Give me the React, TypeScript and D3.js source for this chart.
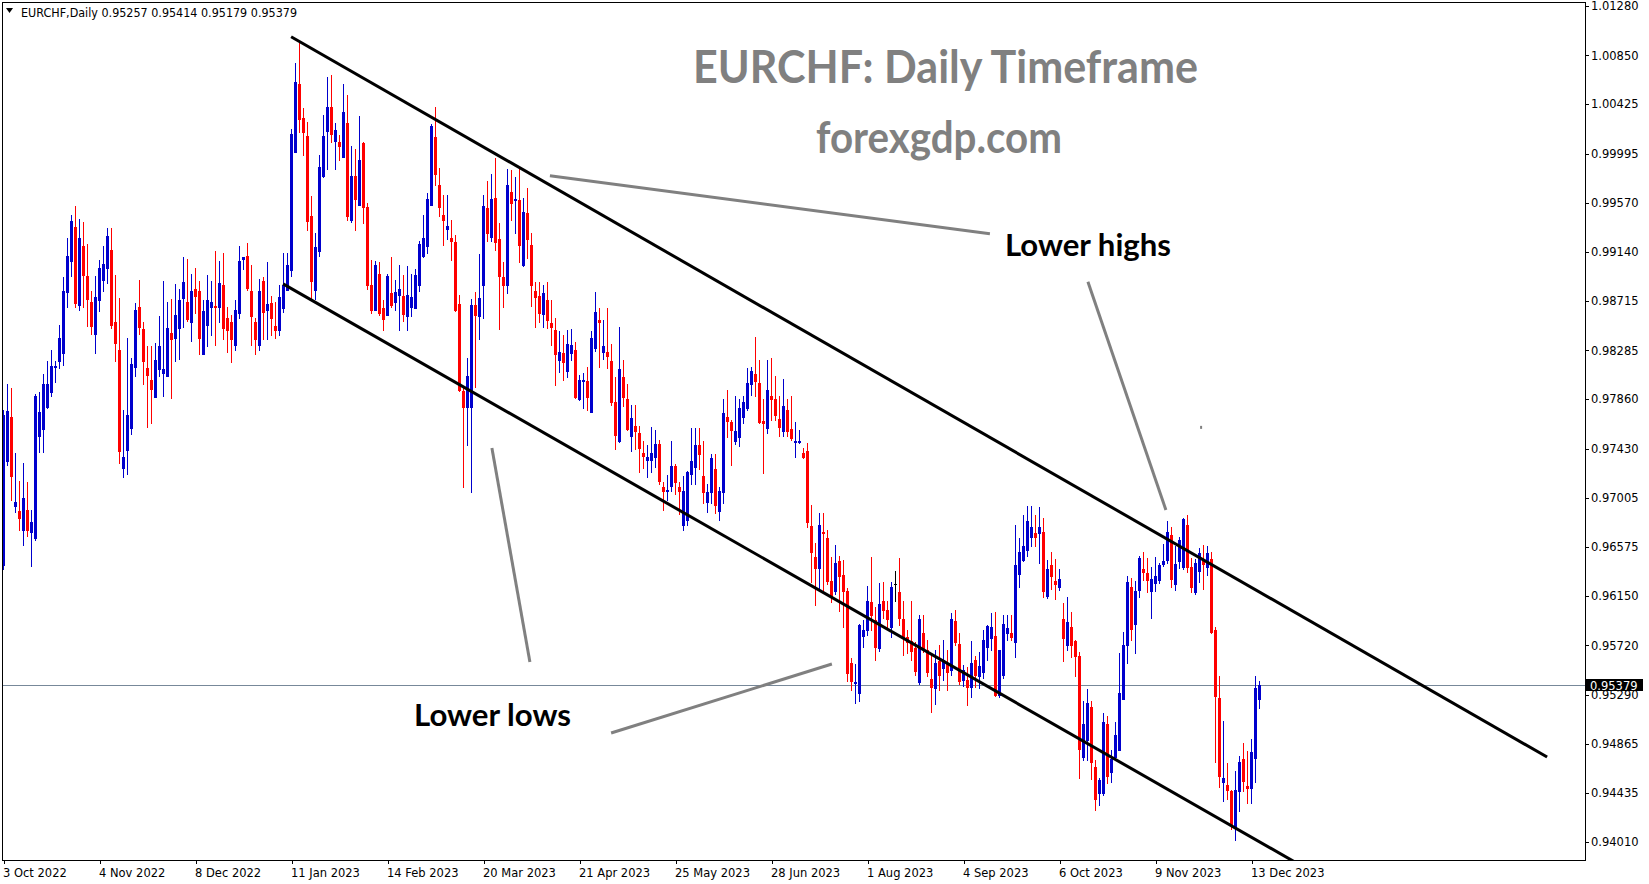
import React from 'react';
import * as d3 from 'd3';

// ---- Data (EURCHF daily, 3 Oct 2022 .. 15 Dec 2023) ----
const opens = [
.9642,.9732,.9771,.9693,.9689,.9672,.9690,.9671,.9665,.9754,
.9760,.9779,.9792,.9814,.9819,.9826,.9879,.9906,.9936,.9868,
.9919,.9893,.9871,.9843,.9872,.9890,.9900,.9916,.9853,.9829,
.9726,.9742,.9761,.9814,.9866,.9847,.9813,.9803,.9788,.9812,
.9809,.9806,.9844,.9839,.9848,.9874,.9871,.9853,.9882,.9880,
.9825,.9851,.9866,.9867,.9866,.9885,.9857,.9853,.9833,.9861,
.9908,.9911,.9880,.9853,.9833,.9889,.9864,.9870,.9850,.9846,
.9865,.9881,.9898,1.0001,1.0060,1.0031,1.0015,.9945,.9881,.9915,
.9980,1.0019,1.0040,1.0011,1.0010,.9997,1.0026,.9942,.9980,.9955,
1.0009,.9953,.9885,.9864,.9895,.9865,.9859,.9878,.9871,.9877,
.9876,.9858,.9866,.9865,.9885,.9911,.9919,.9955,1.0014,.9972,
.9946,.9934,.9926,.9923,.9869,.9793,.9779,.9779,.9868,.9858,
.9885,.9952,.9927,.9961,.9925,.9892,.9885,.9966,.9959,.9959,
.9903,.9948,.9920,.9880,.9876,.9860,.9872,.9852,.9846,.9820,
.9826,.9811,.9826,.9829,.9786,.9802,.9802,.9775,.9831,.9855,
.9827,.9827,.9819,.9784,.9750,.9805,.9786,.9754,.9763,.9757,
.9739,.9733,.9733,.9736,.9747,.9710,.9706,.9711,.9728,.9710,
.9677,.9681,.9721,.9727,.9746,.9719,.9697,.9705,.9725,.9689,
.9705,.9771,.9766,.9750,.9753,.9771,.9778,.9799,.9808,.9800,
.9767,.9761,.9789,.9786,.9769,.9758,.9777,.9760,.9749,.9749,
.9739,.9741,.9676,.9649,.9639,.9671,.9665,.9628,.9619,.9645,
.9633,.9619,.9557,.9539,.9531,.9580,.9585,.9610,.9594,.9570,
.9611,.9603,.9588,.9625,.9618,.9595,.9579,.9576,.9570,.9540,
.9583,.9568,.9543,.9535,.9558,.9552,.9557,.9551,.9593,.9573,
.9542,.9542,.9536,.9559,.9545,.9549,.9571,.9578,.9580,.9529,
.9546,.9583,.9583,.9575,.9634,.9646,.9655,.9666,.9670,.9670,
.9671,.9615,.9642,.9628,.9623,.9595,.9572,.9588,.9576,.9563,
.9475,.9490,.9518,.9466,.9444,.9444,.9504,.9462,.9475,.9481,
.9525,.9572,.9623,.9591,.9620,.9638,.9635,.9619,.9626,.9629,
.9643,.9646,.9668,.9625,.9645,.9640,.9677,.9640,.9618,.9637,
.9647,.9640,.9647,.9585,.9526,.9453,.9451,.9445,.9414,.9445,
.9473,.9450,.9448,.9474,.95257
];

const highs = [
.9777,.9799,.9796,.9739,.9715,.9731,.9714,.9690,.9791,.9792,
.9808,.9819,.9829,.9819,.9851,.9892,.9926,.9946,.9954,.9943,
.9940,.9921,.9880,.9893,.9907,.9919,.9935,.9935,.9894,.9874,
.9777,.9839,.9822,.9870,.9890,.9853,.9832,.9832,.9835,.9858,
.9889,.9871,.9873,.9886,.9882,.9910,.9908,.9895,.9900,.9889,
.9872,.9894,.9889,.9915,.9906,.9913,.9866,.9859,.9872,.9919,
.9910,.9922,.9903,.9857,.9891,.9892,.9905,.9876,.9871,.9885,
.9913,.9913,1.0021,1.0078,1.0096,1.0039,1.0027,.9963,.9931,.9998,
1.0033,1.0066,1.0068,1.0026,1.0016,1.0060,1.0051,1.0006,1.0004,1.0032,
1.0010,.9957,.9907,.9906,.9905,.9872,.9895,.9910,.9890,.9903,
.9894,.9902,.9895,.9899,.9924,.9946,.9965,1.0025,1.0040,.9987,
.9964,.9964,.9942,.9929,.9877,.9796,.9822,.9873,.9879,.9912,
.9964,.9976,.9982,.9996,.9939,.9905,.9986,.9985,.9979,.9988,
.9961,.9970,.9931,.9888,.9888,.9885,.9888,.9872,.9857,.9845,
.9842,.9846,.9847,.9836,.9807,.9809,.9814,.9845,.9879,.9865,
.9855,.9865,.9834,.9805,.9849,.9820,.9799,.9781,.9781,.9763,
.9750,.9746,.9762,.9759,.9751,.9714,.9720,.9750,.9730,.9714,
.9719,.9724,.9761,.9761,.9761,.9750,.9712,.9738,.9738,.9710,
.9786,.9794,.9768,.9789,.9786,.9789,.9813,.9814,.9840,.9820,
.9786,.9820,.9822,.9806,.9789,.9804,.9786,.9789,.9766,.9759,
.9744,.9748,.9694,.9661,.9687,.9687,.9672,.9649,.9659,.9650,
.9646,.9622,.9561,.9556,.9591,.9594,.9624,.9649,.9605,.9626,
.9627,.9611,.9627,.9637,.9648,.9611,.9585,.9611,.9575,.9598,
.9598,.9577,.9564,.9568,.9572,.9577,.9568,.9600,.9603,.9583,
.9555,.9553,.9576,.9563,.9566,.9585,.9590,.9600,.9601,.9568,
.9598,.9598,.9598,.9677,.9665,.9685,.9693,.9693,.9685,.9692,
.9683,.9646,.9653,.9647,.9638,.9609,.9614,.9601,.9577,.9566,
.9524,.9534,.9524,.9472,.9457,.9513,.9511,.9481,.9505,.9565,
.9584,.9632,.9631,.9628,.9650,.9653,.9648,.9640,.9649,.9644,
.9660,.9680,.9675,.9658,.9666,.9683,.9685,.9648,.9647,.9657,
.9659,.9658,.9653,.9588,.9545,.9506,.9470,.9446,.9463,.9476,
.9487,.9480,.9491,.9545,.95414
];

const lows = [
.9638,.9729,.9698,.9688,.9672,.9659,.9667,.9641,.9664,.9740,
.9740,.9778,.9789,.9801,.9813,.9816,.9866,.9893,.9866,.9864,
.9866,.9850,.9843,.9826,.9863,.9880,.9887,.9848,.9819,.9731,
.9718,.9721,.9756,.9806,.9843,.9799,.9762,.9765,.9788,.9806,
.9789,.9806,.9787,.9819,.9821,.9849,.9854,.9837,.9861,.9825,
.9825,.9832,.9842,.9833,.9853,.9838,.9827,.9818,.9829,.9857,
.9899,.9881,.9833,.9825,.9829,.9838,.9838,.9842,.9839,.9842,
.9862,.9881,.9893,1.0001,1.0018,.9998,.9933,.9873,.9873,.9911,
.9979,.9986,1.0010,.9986,.9994,.9997,.9942,.9940,.9933,.9955,
.9939,.9882,.9861,.9864,.9859,.9846,.9859,.9866,.9864,.9846,
.9854,.9846,.9858,.9865,.9880,.9910,.9913,.9955,.9972,.9945,
.9920,.9925,.9907,.9863,.9793,.9710,.9746,.9705,.9797,.9838,
.9857,.9924,.9924,.9916,.9847,.9866,.9878,.9942,.9931,.9905,
.9902,.9909,.9867,.9849,.9853,.9849,.9848,.9833,.9798,.9810,
.9803,.9805,.9820,.9787,.9785,.9778,.9777,.9775,.9828,.9814,
.9821,.9813,.9781,.9743,.9749,.9780,.9759,.9741,.9743,.9723,
.9726,.9718,.9723,.9727,.9712,.9690,.9698,.9706,.9704,.9686,
.9672,.9677,.9712,.9712,.9725,.9696,.9688,.9696,.9687,.9681,
.9696,.9753,.9729,.9747,.9745,.9765,.9777,.9790,.9789,.9765,
.9722,.9757,.9768,.9768,.9754,.9754,.9754,.9751,.9736,.9748,
.9735,.9675,.9627,.9607,.9622,.9620,.9625,.9610,.9617,.9602,
.9588,.9541,.9533,.9522,.9524,.9571,.9581,.9585,.9559,.9567,
.9596,.9588,.9579,.9611,.9590,.9564,.9565,.9559,.9546,.9538,
.9566,.9545,.9514,.9521,.9533,.9542,.9533,.9546,.9572,.9538,
.9537,.9520,.9527,.9536,.9535,.9544,.9559,.9568,.9528,.9527,
.9544,.9577,.9577,.9562,.9623,.9645,.9650,.9658,.9658,.9644,
.9614,.9613,.9621,.9612,.9620,.9558,.9568,.9562,.9545,.9457,
.9472,.9472,.9456,.9429,.9433,.9442,.9452,.9453,.9472,.9481,
.9525,.9557,.9577,.9565,.9614,.9629,.9618,.9596,.9619,.9626,
.9641,.9644,.9623,.9620,.9639,.9638,.9636,.9618,.9617,.9627,
.9621,.9633,.9583,.9471,.9449,.9437,.9438,.9412,.9403,.9428,
.9445,.9435,.9435,.9453,.95179
];

const closes = [
.9772,.9776,.9719,.9697,.9683,.9700,.9672,.9679,.9789,.9775,
.9799,.9799,.9815,.9815,.9839,.9880,.9911,.9941,.9870,.9926,
.9894,.9873,.9850,.9875,.9900,.9904,.9928,.9851,.9835,.9741,
.9736,.9772,.9817,.9864,.9849,.9819,.9807,.9795,.9820,.9832,
.9812,.9848,.9838,.9859,.9872,.9888,.9856,.9880,.9876,.9839,
.9863,.9872,.9871,.9866,.9887,.9848,.9846,.9838,.9864,.9906,
.9910,.9883,.9858,.9838,.9880,.9862,.9869,.9857,.9846,.9875,
.9885,.9903,1.0017,1.0062,1.0030,1.0018,.9941,.9889,.9918,.9988,
1.0015,1.0040,1.0017,1.0020,1.0006,1.0036,.9945,.9980,.9960,.9994,
.9953,.9885,.9864,.9903,.9861,.9856,.9893,.9868,.9879,.9882,
.9860,.9877,.9875,.9894,.9921,.9926,.9960,1.0024,.9982,.9953,
.9942,.9937,.9924,.9864,.9794,.9779,.9806,.9868,.9859,.9874,
.9954,.9931,.9960,.9923,.9893,.9885,.9972,.9957,.9960,.9920,
.9949,.9925,.9885,.9875,.9861,.9878,.9855,.9849,.9825,.9827,
.9818,.9834,.9833,.9788,.9803,.9803,.9788,.9839,.9862,.9853,
.9832,.9824,.9784,.9755,.9812,.9788,.9760,.9770,.9758,.9744,
.9737,.9736,.9739,.9747,.9715,.9706,.9707,.9728,.9714,.9706,
.9706,.9723,.9732,.9746,.9738,.9705,.9705,.9735,.9694,.9706,
.9774,.9767,.9759,.9758,.9778,.9784,.9800,.9811,.9802,.9766,
.9765,.9794,.9786,.9772,.9762,.9780,.9758,.9752,.9750,.9750,
.9736,.9679,.9653,.9639,.9677,.9670,.9628,.9614,.9644,.9632,
.9619,.9548,.9541,.9540,.9590,.9585,.9611,.9598,.9571,.9608,
.9603,.9595,.9623,.9625,.9596,.9579,.9575,.9567,.9550,.9595,
.9570,.9549,.9536,.9557,.9546,.9559,.9549,.9595,.9575,.9541,
.9551,.9536,.9557,.9546,.9554,.9577,.9589,.9588,.9529,.9568,
.9591,.9587,.9579,.9642,.9653,.9658,.9680,.9675,.9666,.9675,
.9619,.9638,.9632,.9625,.9630,.9578,.9592,.9572,.9563,.9482,
.9504,.9522,.9471,.9438,.9455,.9505,.9458,.9473,.9494,.9531,
.9572,.9627,.9586,.9619,.9648,.9636,.9629,.9630,.9632,.9642,
.9645,.9671,.9630,.9643,.9664,.9682,.9640,.9623,.9644,.9652,
.9643,.9652,.9584,.9528,.9458,.9457,.9446,.9416,.9446,.9471,
.9454,.9448,.9479,.9535,.95379
];

const dateLabels = ['3 Oct 2022','4 Nov 2022','8 Dec 2022','11 Jan 2023','14 Feb 2023','20 Mar 2023','21 Apr 2023','25 May 2023','28 Jun 2023','1 Aug 2023','4 Sep 2023','6 Oct 2023','9 Nov 2023','13 Dec 2023'];
const dateLabelBars = [0,24,48,72,96,120,144,168,192,216,240,264,288,312];

const priceTicks = [1.01280,1.00850,1.00425,0.99995,0.99570,0.99140,0.98715,0.98285,0.97860,0.97430,0.97005,0.96575,0.96150,0.95720,0.95290,0.94865,0.94435,0.94010];

const symbolHeader = 'EURCHF,Daily';
const lastBar = { o: 0.95257, h: 0.95414, l: 0.95179, c: 0.95379 };

// channel trend lines: [barIndex, price]
const upperTrend = [[71.9, 1.01013],[385.9, 0.94749]];
const lowerTrend = [[69.9, 0.98864],[325, 0.93793]];
// grey pointer lines: [barIndex, price]
const pointerLines = [
  [[136.6, 0.99804],[246.6, 0.99299]],
  [[271.1, 0.98882],[290.6, 0.96898]],
  [[122.1, 0.97437],[131.6, 0.95576]],
  [[151.9, 0.94958],[207.1, 0.95558]],
];
const strayDot = [299.4, 0.9762];

const BLUE = '#0000CD';
const RED = '#FF0000';

export default function App() {
  const W = 1649, H = 884;
  const pl = 2, pt = 2, pr = 1585, pb = 860;
  const x = d3.scaleLinear().domain([0, 314]).range([3.5, 3.5 + 4 * 314]);
  const y = d3.scaleLinear().domain([0.9401, 1.0128]).range([842, 6]);
  const fmt = d3.format('.5f');
  const line = d3.line<number[]>().x(d => x(d[0])).y(d => y(d[1]));

  const candles = opens.map((o, i) => {
    const c = closes[i];
    const color = c > o ? BLUE : c < o ? RED : '#000';
    const cx = Math.round(x(i) - 0.5);
    const hi = Math.max(highs[i], o, c), lo = Math.min(lows[i], o, c);
    const yh = Math.round(y(hi)), yl = Math.round(y(lo));
    const yt = Math.round(y(Math.max(o, c))), yb = Math.round(y(Math.min(o, c)));
    return (
      <g key={i}>
        <rect x={cx} y={yh} width={1} height={Math.max(1, yl - yh + 1)} fill={color} />
        <rect x={cx - 1} y={yt} width={3} height={Math.max(1, yb - yt + 1)} fill={color} />
      </g>
    );
  });

  const yLast = Math.round(y(lastBar.c)) + 0.5;
  const axisFont = '"DejaVu Sans", Verdana, sans-serif';

  return (
    <svg width={W} height={H} viewBox={`0 0 ${W} ${H}`}
      style={{ position: 'fixed', left: 0, top: 0, background: '#fff' }}>
      <rect x={0} y={0} width={W} height={H} fill="#fff" />
      <defs>
        <clipPath id="plot">
          <rect x={pl + 1} y={pt + 1} width={pr - pl - 1} height={pb - pt - 1} />
        </clipPath>
      </defs>

      {/* current price line */}
      <line x1={pl} x2={pr} y1={yLast} y2={yLast} stroke="#778899" strokeWidth={1} shapeRendering="crispEdges" />

      <g clipPath="url(#plot)" shapeRendering="crispEdges">{candles}</g>

      <g clipPath="url(#plot)">
        <path d={line(upperTrend as any) || ''} stroke="#000" strokeWidth={3} fill="none" />
        <path d={line(lowerTrend as any) || ''} stroke="#000" strokeWidth={3} fill="none" />
        {pointerLines.map((p, i) => (
          <path key={i} d={line(p as any) || ''} stroke="#808080" strokeWidth={3} fill="none" />
        ))}
        <rect x={x(strayDot[0]) - 1} y={y(strayDot[1]) - 1} width={2} height={3} fill="#808080" />
      </g>

      {/* frame */}
      <rect x={pl + 0.5} y={pt + 0.5} width={pr - pl} height={pb - pt} fill="none" stroke="#000" strokeWidth={1} shapeRendering="crispEdges" />

      {/* price axis */}
      <g fontFamily={axisFont} fontSize={11.5} fill="#000">
        {priceTicks.map((p, i) => (
          <g key={i}>
            <line x1={pr} x2={pr + 4} y1={Math.round(y(p)) + 0.5} y2={Math.round(y(p)) + 0.5} stroke="#000" shapeRendering="crispEdges" />
            <text x={pr + 6} y={y(p)} dy="0.36em">{fmt(p)}</text>
          </g>
        ))}
        <rect x={pr + 1} y={yLast - 6.5} width={57} height={12} fill="#000" />
        <text x={pr + 5} y={yLast} dy="0.36em" fill="#fff">{fmt(lastBar.c)}</text>
      </g>

      {/* time axis */}
      <g fontFamily={axisFont} fontSize={11.5} fill="#000">
        {dateLabelBars.map((b, i) => (
          <g key={i}>
            <line x1={Math.round(x(b)) + 0.5} x2={Math.round(x(b)) + 0.5} y1={pb} y2={pb + 4} stroke="#000" shapeRendering="crispEdges" />
            <text x={x(b) - 0.5} y={876.5}>{dateLabels[i]}</text>
          </g>
        ))}
      </g>

      {/* header */}
      <polygon points="6,8 13,8 9.5,13" fill="#000" />
      <text x={21} y={16.5} fontFamily={axisFont} fontSize={11.5} fill="#000" textLength={276} lengthAdjust="spacingAndGlyphs">
        {`${symbolHeader}  ${fmt(lastBar.o)} ${fmt(lastBar.h)} ${fmt(lastBar.l)} ${fmt(lastBar.c)}`}
      </text>

      {/* annotations */}
      <g fontFamily="Lato, 'Open Sans', sans-serif" fontWeight="bold">
        <text x={693} y={83} fontSize={45} fill="#808080" textLength={505} lengthAdjust="spacingAndGlyphs">EURCHF: Daily Timeframe</text>
        <text x={816} y={153} fontSize={43} fill="#808080" textLength={246} lengthAdjust="spacingAndGlyphs">forexgdp.com</text>
        <text x={1005} y={256} fontSize={30} fill="#000" textLength={166} lengthAdjust="spacingAndGlyphs">Lower highs</text>
        <text x={414} y={726} fontSize={30} fill="#000" textLength={157} lengthAdjust="spacingAndGlyphs">Lower lows</text>
      </g>
    </svg>
  );
}
